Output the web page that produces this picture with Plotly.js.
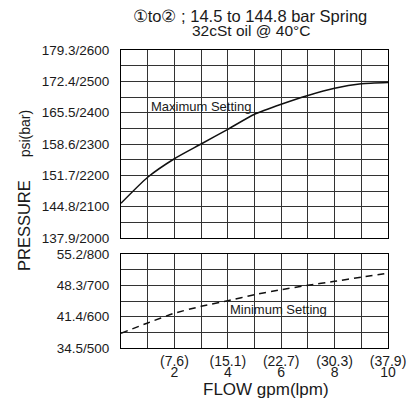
<!DOCTYPE html>
<html>
<head>
<meta charset="utf-8">
<script src="https://cdn.plot.ly/plotly-3.0.1.min.js"></script>
<style>html,body{margin:0;padding:0;background:#fff;}#chart{width:418px;height:401px;}</style>
</head>
<body>
<div id="chart"></div>
<script>
// Flow (gpm) sample points
const flowGpm = [0, 1, 2, 3, 4, 5, 6, 7, 8, 9, 10];
// Maximum setting pressure (psi)
const maxSettingPsi = [2111, 2194, 2253, 2300, 2347, 2395, 2427, 2455, 2478, 2492, 2496];
// Minimum setting pressure (psi)
const minSettingPsi = [547, 580, 611, 633, 651, 670, 686, 700, 713, 726, 739];

// x gridlines / tick labels
const xGrid = [0, 1, 2, 3, 4, 5, 6, 7, 8, 9, 10];
const xLpmLabels = ["", "", "(7.6)", "", "(15.1)", "", "(22.7)", "", "(30.3)", "", "(37.9)"];
const xGpmTicks = [2, 4, 6, 8, 10];
const xGpmLabels = ["2", "4", "6", "8", "10"];

// upper pressure axis
const yTopGrid = [2000, 2050, 2100, 2150, 2200, 2250, 2300, 2350, 2400, 2450, 2500, 2550, 2600];
const yTopLabels = ["137.9/2000", "", "144.8/2100", "", "151.7/2200", "", "158.6/2300", "", "165.5/2400", "", "172.4/2500", "", "179.3/2600"];
// lower pressure axis
const yBotGrid = [500, 550, 600, 650, 700, 750, 800];
const yBotLabels = ["34.5/500", "", "41.4/600", "", "48.3/700", "", "55.2/800"];

const FONT = "Liberation Sans, Arial, sans-serif";
const INK = "#1a1a1a";
const GRID = "#333";

const traces = [
  {x: flowGpm, y: maxSettingPsi, xaxis: "x2", yaxis: "y2", mode: "lines", line: {color: "#111", width: 1.5, shape: "spline", smoothing: 0.6}, hoverinfo: "skip", name: "Maximum Setting"},
  {x: flowGpm, y: minSettingPsi, xaxis: "x", yaxis: "y", mode: "lines", line: {color: "#111", width: 1.5, dash: "7px,5px", shape: "spline", smoothing: 0.6}, hoverinfo: "skip", name: "Minimum Setting"},
  {x: [], y: [], xaxis: "x3", yaxis: "y", mode: "lines", hoverinfo: "skip", showlegend: false}
];

const gridAxis = {
  range: [0, 10], tickvals: xGrid, showgrid: true, gridcolor: GRID, gridwidth: 1,
  showline: true, mirror: true, linecolor: "#000", linewidth: 1, ticks: "", zeroline: false
};

const layout = {
  width: 418, height: 401,
  margin: {l: 121, r: 30, t: 50, b: 53},
  paper_bgcolor: "#fff", plot_bgcolor: "#fff",
  showlegend: false,
  font: {family: FONT, color: INK},
  title: {text: "\u2460to\u2461 ; 14.5 to 144.8 bar Spring", font: {size: 16.5, family: FONT, color: INK},
          x: 250 / 418, xref: "container", xanchor: "center", y: 1 - 16 / 401, yref: "container", yanchor: "middle"},
  xaxis: Object.assign({}, gridAxis, {anchor: "y", domain: [0, 1], ticktext: xLpmLabels, tickfont: {size: 14, family: FONT, color: INK}, ticklabelstandoff: 0}),
  xaxis2: Object.assign({}, gridAxis, {anchor: "y2", domain: [0, 1], matches: "x", showticklabels: false}),
  xaxis3: {overlaying: "x", anchor: "y", side: "bottom", range: [0, 10], tickvals: xGpmTicks, ticktext: xGpmLabels, showgrid: false, showline: false, zeroline: false, ticks: "", tickfont: {size: 14, family: FONT, color: INK}, ticklabelstandoff: 14},
  yaxis: {domain: [0, 0.3154], anchor: "x", range: [500, 800], tickvals: yBotGrid, ticktext: yBotLabels, showgrid: true, gridcolor: GRID, gridwidth: 1, showline: true, mirror: true, linecolor: "#000", ticks: "", zeroline: false, tickfont: {size: 13.5, family: FONT, color: INK}, ticklabelstandoff: 8},
  yaxis2: {domain: [0.369, 1], anchor: "x2", range: [2000, 2600], tickvals: yTopGrid, ticktext: yTopLabels, showgrid: true, gridcolor: GRID, gridwidth: 1, showline: true, mirror: true, linecolor: "#000", ticks: "", zeroline: false, tickfont: {size: 13.5, family: FONT, color: INK}, ticklabelstandoff: 8},
  annotations: [
    {text: "32cSt oil @ 40\u00B0C", xref: "paper", yref: "paper", x: (251 - 121) / 267, y: 1 + (50 - 30) / 298, xanchor: "center", yanchor: "middle", showarrow: false, font: {size: 15.5, family: FONT, color: INK}},
    {text: "Maximum Setting", xref: "x2", yref: "y2", x: 1.03, y: 2421, xanchor: "left", yanchor: "middle", showarrow: false, font: {size: 13, family: FONT, color: INK}},
    {text: "Minimum Setting", xref: "x", yref: "y", x: 4.02, y: 624, xanchor: "left", yanchor: "middle", showarrow: false, font: {size: 13, family: FONT, color: INK}},
    {text: "FLOW gpm(lpm)", xref: "paper", yref: "paper", x: (266 - 121) / 267, y: -(389 - 348) / 298, xanchor: "center", yanchor: "middle", showarrow: false, font: {size: 17, family: FONT, color: INK}},
    {text: "PRESSURE\u00A0\u00A0\u00A0\u00A0\u00A0<span style=\"font-size:14px\">psi(bar)</span>", xref: "paper", yref: "paper", x: (24 - 121) / 267, y: (348 - 191) / 298, xanchor: "center", yanchor: "middle", textangle: -90, showarrow: false, font: {size: 16.5, family: FONT, color: INK}}
  ]
};

Plotly.newPlot("chart", traces, layout, {staticPlot: true, displayModeBar: false});
</script>
</body>
</html>
